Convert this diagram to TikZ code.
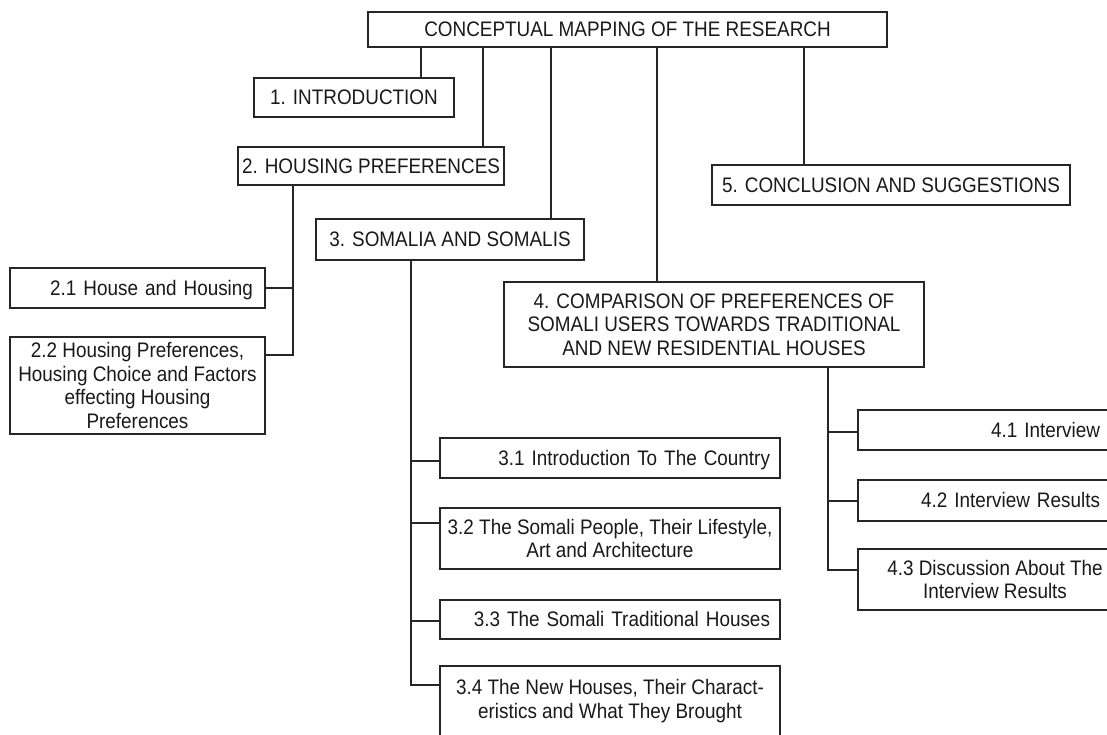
\documentclass[tikz,border=0pt]{standalone}
\usepackage{fontspec}
\setmainfont[FakeStretch=0.9]{Liberation Sans}
\begin{document}
\begin{tikzpicture}[x=1pt,y=-1pt,
  box/.style={draw=black!85, line width=1.1pt, inner xsep=2pt, inner ysep=0pt, align=center,
    font=\fontsize{21}{23.5}\selectfont, text=black!90},
  one/.style={text height=14pt, text depth=0pt},
  link/.style={draw=black!85, line width=1.1pt}]
\useasboundingbox (0,0) rectangle (1107,734);
\clip (0,0) rectangle (1107,734);
\newcommand\bx[7]{\node[box,#6,minimum width={#4-#2},minimum height={#5-#3}] (#1) at ({(#2+#4)/2},{(#3+#5)/2}) {#7};}
\bx{root}{368}{12}{887}{47}{one}{CONCEPTUAL MAPPING OF THE RESEARCH}
\bx{intro}{254}{78}{454}{117}{one}{1. INTRODUCTION}
\bx{hous}{238}{147}{504}{185}{one}{2. HOUSING PREFERENCES}
\bx{concl}{712}{165}{1070}{205}{one}{5. CONCLUSION AND SUGGESTIONS}
\bx{soma}{316}{219}{584}{260}{one}{3. SOMALIA AND SOMALIS}
\bx{h21}{10}{268}{265}{308}{one,text width=231pt,inner xsep=12pt,align=right}{2.1 House and Housing}
\bx{h22}{10}{337}{265}{434}{}{2.2 Housing Preferences,\\Housing Choice and Factors\\effecting Housing\\Preferences}
\bx{comp}{504}{282}{924}{367}{}{4. COMPARISON OF PREFERENCES OF\\SOMALI USERS TOWARDS TRADITIONAL\\AND NEW RESIDENTIAL HOUSES}
\bx{c41}{858}{410}{1132}{450}{one,text width=210pt,inner xsep=32pt,align=right}{4.1 Interview}
\bx{c42}{858}{480}{1132}{521}{one,text width=210pt,inner xsep=32pt,align=right}{4.2 Interview Results}
\bx{c43}{858}{549}{1132}{610}{}{4.3 Discussion About The\\Interview Results}
\bx{s31}{440}{438}{780}{478}{one,text width=320pt,inner xsep=10pt,align=right}{3.1 Introduction To The Country}
\bx{s32}{440}{508}{780}{569}{}{3.2 The Somali People, Their Lifestyle,\\Art and Architecture}
\bx{s33}{440}{600}{780}{639}{one,text width=320pt,inner xsep=10pt,align=right}{3.3 The Somali Traditional Houses}
\bx{s34}{440}{666}{780}{736}{}{3.4 The New Houses, Their Charact-\\eristics and What They Brought}
% x positions of trunks
\coordinate (xi) at (421,0);
\coordinate (xh) at (483,0);
\coordinate (xs) at (551,0);
\coordinate (xc) at (657,0);
\coordinate (xk) at (804,0);
\coordinate (th) at (293,355);
\coordinate (ts) at (411,685);
\coordinate (tc) at (828,570);
\coordinate (y21) at (0,288);
\coordinate (y31) at (0,461);
\coordinate (y32) at (0,523);
\coordinate (y33) at (0,621);
\coordinate (y41) at (0,432);
\coordinate (y42) at (0,501);
\draw[link] (root.south -| xi) -- (intro.north -| xi);
\draw[link] (root.south -| xh) -- (hous.north -| xh);
\draw[link] (root.south -| xs) -- (soma.north -| xs);
\draw[link] (root.south -| xc) -- (comp.north -| xc);
\draw[link] (root.south -| xk) -- (concl.north -| xk);
% housing
\draw[link] (hous.south -| th) -- (th) -- (h22.east |- th);
\draw[link] (th |- y21) -- (h21.east |- y21);
% somalia
\draw[link] (soma.south -| ts) -- (ts) -- (s34.west |- ts);
\draw[link] (ts |- y31) -- (s31.west |- y31);
\draw[link] (ts |- y32) -- (s32.west |- y32);
\draw[link] (ts |- y33) -- (s33.west |- y33);
% comparison
\draw[link] (comp.south -| tc) -- (tc) -- (c43.west |- tc);
\draw[link] (tc |- y41) -- (c41.west |- y41);
\draw[link] (tc |- y42) -- (c42.west |- y42);
\end{tikzpicture}
\end{document}
